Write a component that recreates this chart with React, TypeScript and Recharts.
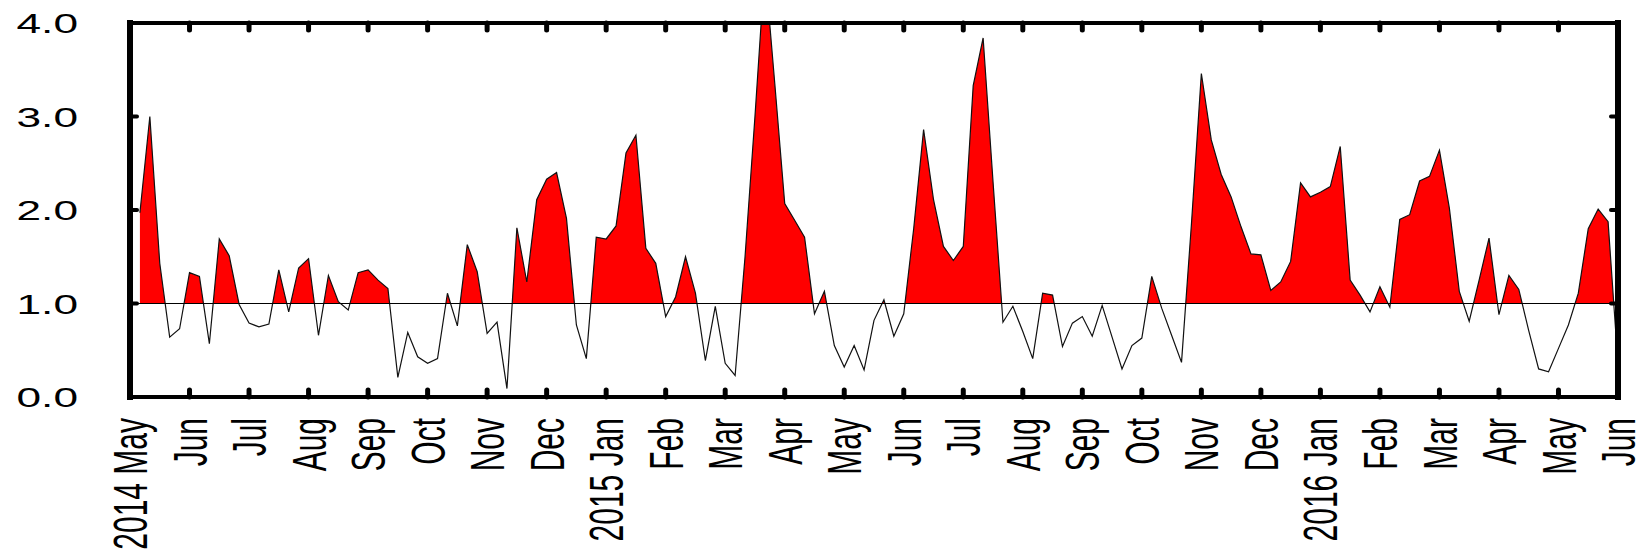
import { AreaChart, Area, XAxis, YAxis, ReferenceLine } from "recharts";

// month ticks along the bottom, one every month
const monthLabels = [
  "2014 May", "Jun", "Jul", "Aug", "Sep", "Oct", "Nov", "Dec",
  "2015 Jan", "Feb", "Mar", "Apr", "May", "Jun", "Jul", "Aug", "Sep", "Oct", "Nov", "Dec",
  "2016 Jan", "Feb", "Mar", "Apr", "May", "Jun",
];
const monthTicks = monthLabels.map((_, i) => i);
const yTicks = [0, 1, 2, 3, 4];

// six samples per month, starting one step after 2014 May
const SAMPLES_PER_MONTH = 6;
const ratio = [
  1.97, 3.0, 1.43, 0.64, 0.73, 1.33, 1.29, 0.57, 1.69, 1.51,
  0.99, 0.79, 0.75, 0.78, 1.36, 0.91, 1.38, 1.48, 0.66, 1.3,
  1.02, 0.93, 1.33, 1.36, 1.25, 1.16, 0.21, 0.69, 0.43, 0.36,
  0.41, 1.11, 0.76, 1.63, 1.34, 0.68, 0.8, 0.09, 1.81, 1.23,
  2.11, 2.33, 2.4, 1.91, 0.77, 0.41, 1.71, 1.69, 1.83, 2.61,
  2.8, 1.59, 1.43, 0.86, 1.07, 1.5, 1.11, 0.39, 0.97, 0.36,
  0.23, 1.5, 3.0, 4.6, 3.35, 2.07, 1.89, 1.71, 0.89, 1.13,
  0.55, 0.32, 0.55, 0.29, 0.82, 1.04, 0.65, 0.89, 1.8, 2.86,
  2.11, 1.61, 1.46, 1.61, 3.33, 3.84, 2.3, 0.8, 0.97, 0.7,
  0.41, 1.11, 1.09, 0.54, 0.79, 0.86, 0.65, 0.98, 0.64, 0.3,
  0.55, 0.63, 1.29, 0.95, 0.66, 0.37, 1.85, 3.46, 2.75, 2.38,
  2.14, 1.82, 1.53, 1.52, 1.14, 1.23, 1.45, 2.29, 2.14, 2.19,
  2.25, 2.68, 1.25, 1.09, 0.91, 1.18, 0.96, 1.9, 1.95, 2.31,
  2.36, 2.64, 2.02, 1.13, 0.81, 1.25, 1.7, 0.88, 1.3, 1.15,
  0.71, 0.3, 0.27, 0.52, 0.77, 1.11, 1.8, 2.01, 1.875, 0.35,
];
const BASELINE = 1;

const chartData = ratio.map((v, i) => ({ t: (i + 1) / SAMPLES_PER_MONTH, ratio: v }));

// fill only the part of the area that sits above the baseline
const maxV = Math.max(...ratio);
const minV = Math.min(...ratio);
const splitAt = (maxV - BASELINE) / (maxV - minV);

const FONT = "'Liberation Sans', Arial, Helvetica, sans-serif";
const STRETCH = 1.58;
const TICK_LEN = 7;

function BottomTick(props: any) {
  const { x, y, payload } = props;
  return (
    <g>
      <line x1={x} x2={x} y1={y} y2={y - TICK_LEN} stroke="#000" strokeWidth={5} strokeLinecap="round" />
      <g transform={`translate(${x},${y + 21}) scale(${STRETCH},1)`}>
        <text transform="rotate(-90)" textAnchor="end" dy="0.36em" fontSize={30} fontFamily={FONT} fill="#000">
          {monthLabels[payload.value]}
        </text>
      </g>
    </g>
  );
}

function TopTick(props: any) {
  const { x, y } = props;
  return <line x1={x} x2={x} y1={y} y2={y + TICK_LEN} stroke="#000" strokeWidth={5} strokeLinecap="round" />;
}

function LeftTick(props: any) {
  const { x, y, payload } = props;
  return (
    <g>
      <line x1={x} x2={x + TICK_LEN} y1={y} y2={y} stroke="#000" strokeWidth={4} strokeLinecap="round" />
      <g transform={`translate(${x - 52},${y}) scale(${STRETCH},1)`}>
        <text textAnchor="end" dy="0.36em" fontSize={28} fontFamily={FONT} fill="#000">
          {Number(payload.value).toFixed(1)}
        </text>
      </g>
    </g>
  );
}

function RightTick(props: any) {
  const { x, y } = props;
  return <line x1={x} x2={x - TICK_LEN} y1={y} y2={y} stroke="#000" strokeWidth={4} strokeLinecap="round" />;
}

export default function App() {
  return (
    <div style={{ position: "fixed", left: 0, top: 0, background: "#fff" }}>
      <AreaChart
        width={1644}
        height={553}
        data={chartData}
        margin={{ top: 23, right: 26, bottom: 126, left: 70 }}
      >
        <defs>
          <linearGradient id="aboveBaseline" x1="0" y1="0" x2="0" y2="1">
            <stop offset={0} stopColor="#ff0000" stopOpacity={1} />
            <stop offset={splitAt} stopColor="#ff0000" stopOpacity={1} />
            <stop offset={splitAt} stopColor="#ff0000" stopOpacity={0} />
            <stop offset={1} stopColor="#ff0000" stopOpacity={0} />
          </linearGradient>
        </defs>
        <Area
          xAxisId="x"
          yAxisId="y"
          type="linear"
          dataKey="ratio"
          baseValue={BASELINE}
          stroke="#111"
          strokeWidth={1.2}
          fill="url(#aboveBaseline)"
          fillOpacity={1}
          dot={false}
          activeDot={false}
          isAnimationActive={false}
        />
        <ReferenceLine xAxisId="x" yAxisId="y" y={BASELINE} stroke="#000" strokeWidth={1} />
        <XAxis
          xAxisId="x"
          dataKey="t"
          type="number"
          domain={[0, 25]}
          ticks={monthTicks}
          interval={0}
          allowDataOverflow
          height={30}
          tickSize={0}
          tickMargin={0}
          tickLine={false}
          tick={<BottomTick />}
          axisLine={{ stroke: "#000", strokeWidth: 4, strokeLinecap: "square" }}
        />
        <XAxis
          xAxisId="top"
          orientation="top"
          dataKey="t"
          type="number"
          domain={[0, 25]}
          ticks={monthTicks}
          interval={0}
          allowDataOverflow
          mirror
          height={10}
          tickSize={0}
          tickMargin={0}
          tickLine={false}
          tick={<TopTick />}
          axisLine={{ stroke: "#000", strokeWidth: 4, strokeLinecap: "square" }}
        />
        <YAxis
          yAxisId="y"
          type="number"
          domain={[0, 4]}
          ticks={yTicks}
          interval={0}
          allowDataOverflow
          width={60}
          tickSize={0}
          tickMargin={0}
          tickLine={false}
          tick={<LeftTick />}
          axisLine={{ stroke: "#000", strokeWidth: 6, strokeLinecap: "square" }}
        />
        <YAxis
          yAxisId="right"
          orientation="right"
          type="number"
          domain={[0, 4]}
          ticks={yTicks}
          interval={0}
          allowDataOverflow
          mirror
          width={10}
          tickSize={0}
          tickMargin={0}
          tickLine={false}
          tick={<RightTick />}
          axisLine={{ stroke: "#000", strokeWidth: 6, strokeLinecap: "square" }}
        />
      </AreaChart>
    </div>
  );
}
